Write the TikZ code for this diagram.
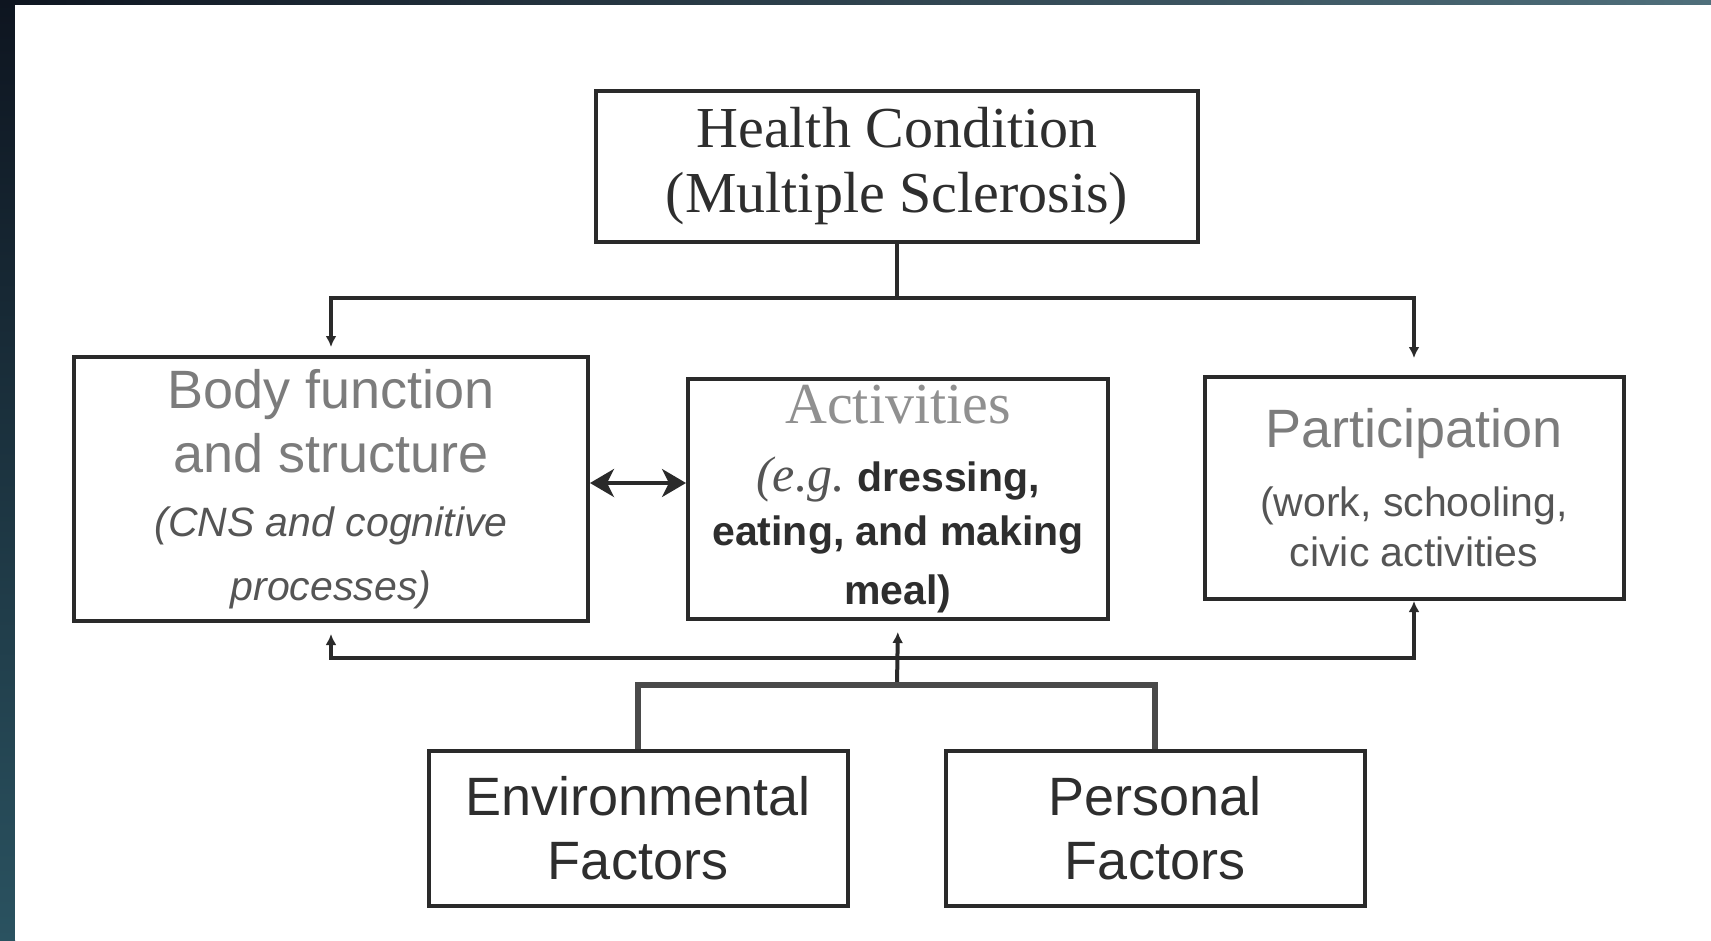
\documentclass[tikz,border=0pt]{standalone}
\usepackage{fontspec}
\setmainfont{Liberation Serif}
\setsansfont{Liberation Sans}
\usetikzlibrary{arrows.meta}
\definecolor{linec}{HTML}{2A2A2A}
\definecolor{forkc}{HTML}{4A4A4A}
\definecolor{darktxt}{HTML}{2E2E2E}
\definecolor{midtxt}{HTML}{555555}
\definecolor{lighttxt}{HTML}{7C7C7C}
\definecolor{bandA}{HTML}{0E1520}
\definecolor{bandB}{HTML}{16242F}
\definecolor{bandC}{HTML}{4F6F7B}
\definecolor{bandD}{HTML}{2A5260}
\newcommand{\hcfont}{\fontsize{58}{65}\selectfont\rmfamily\upshape\color{darktxt}}
\newcommand{\bfA}{\fontsize{54}{64}\selectfont\sffamily\upshape\color{lighttxt}}
\newcommand{\bfB}{\fontsize{41}{64}\selectfont\sffamily\itshape\color{midtxt}}
\newcommand{\acA}{\fontsize{58}{54}\selectfont\rmfamily\upshape\color{lighttxt!85}}
\newcommand{\acE}{\fontsize{50}{54}\selectfont\rmfamily\itshape\color{midtxt}}
\newcommand{\acB}{\fontsize{41}{54}\selectfont\sffamily\upshape\bfseries\color{darktxt}}
\newcommand{\paA}{\fontsize{54}{50}\selectfont\sffamily\upshape\color{lighttxt}}
\newcommand{\paB}{\fontsize{41}{50}\selectfont\sffamily\upshape\color{midtxt}}
\newcommand{\fcfont}{\fontsize{54}{64}\selectfont\sffamily\upshape\color{darktxt}}
\begin{document}
\begin{tikzpicture}[x=1pt,y=-1pt,
  box/.style={draw=linec, line width=4pt, fill=white, inner sep=0pt, align=center},
  conn/.style={draw=linec, line width=4pt},
  fork/.style={draw=forkc, line width=5.5pt},
  tip/.style={-{Latex[length=11pt,width=11pt]}},
  dbl/.style={{Stealth[length=24pt,width=28pt,inset=7pt]}-{Stealth[length=24pt,width=28pt,inset=7pt]}}
]
\useasboundingbox (0,0) rectangle (1711,940);
% frame
\shade[left color=bandA, middle color=bandB, right color=bandC] (0,0) rectangle (1711,5);
\shade[top color=bandA, middle color=bandA!80!bandD, bottom color=bandD] (0,0) rectangle (15,940);
\fill[white] (15,5) rectangle (1711,940);

% boxes
\node[box, minimum width=602pt, minimum height=151pt, font={\fontsize{58}{65}\selectfont}] (health) at (897,166)
  {\hcfont Health Condition\\ \hcfont (Multiple Sclerosis)};
\node[box, minimum width=514pt, minimum height=264pt, font={\fontsize{52}{64}\selectfont}] (body) at (331,489)
  {\bfA Body function\\ \bfA and structure\\ \bfB (CNS and cognitive\\ \bfB processes)};
\node[box, minimum width=420pt, minimum height=240pt, font={\fontsize{41}{54}\selectfont}] (act) at (898,499)
  {\acA Activities\\[14pt] \acE (e.g.\ \acB dressing,\\ \acB eating, and making\\[5pt] \acB meal)};
\node[box, minimum width=419pt, minimum height=222pt, font={\fontsize{41}{50}\selectfont}] (part) at (1414,488)
  {\paA Participation\\[19pt] \paB (work, schooling,\\ \paB civic activities};
\node[box, minimum width=419pt, minimum height=155pt, font={\fontsize{54}{64}\selectfont}] (env) at (638,828)
  {\fcfont Environmental\\ \fcfont Factors};
\node[box, minimum width=419pt, minimum height=155pt, font={\fontsize{54}{64}\selectfont}] (pers) at (1155,828)
  {\fcfont Personal\\ \fcfont Factors};

% coordinates
\coordinate (hub) at (897,298);
\coordinate (bus) at (897,658);
\coordinate (split) at (897,685);
\coordinate (mid) at (640,483);

% top connectors
\draw[conn] (health.south) -- (hub);
\draw[conn, tip, shorten >=8pt] (hub) -| (body.north);
\draw[conn, tip, shorten >=17pt] (hub) -| (part.north);

% double arrow
\draw[conn, line width=3.5pt, dbl] (body.east |- mid) -- (act.west |- mid);

% bottom connectors
\draw[conn, tip, shorten >=11pt] (bus) -| (body.south);
\draw[conn, tip] (bus) -| (part.south);
\draw[conn, tip, shorten >=11pt] (split) -- (act.south);
\draw[fork] (split) -| (env.north);
\draw[fork] (split) -| (pers.north);
\end{tikzpicture}
\end{document}
